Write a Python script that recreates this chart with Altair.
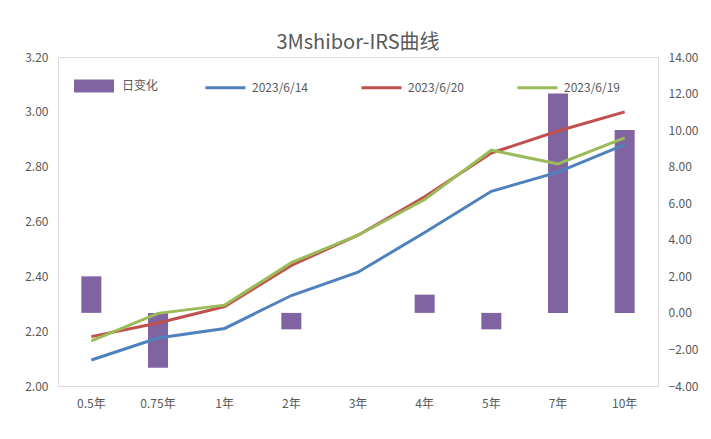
import altair as alt
import pandas as pd

categories = ["0.5年", "0.75年", "1年", "2年", "3年", "4年", "5年", "7年", "10年"]
daily_change = [2.0, -3.0, 0.0, -0.9, 0.0, 1.0, -0.9, 12.0, 10.0]
s_0614 = [2.095, 2.175, 2.21, 2.33, 2.415, 2.56, 2.71, 2.78, 2.88]
s_0620 = [2.18, 2.23, 2.29, 2.44, 2.55, 2.69, 2.85, 2.93, 3.00]
s_0619 = [2.165, 2.265, 2.295, 2.45, 2.55, 2.68, 2.86, 2.81, 2.905]
series_names = ["2023/6/14", "2023/6/20", "2023/6/19"]
series_colors = ["#4F81BD", "#C0504D", "#9BBB59"]
bar_name = "日变化"
bar_color = "#8064A2"

FONT = "Noto Sans CJK SC"
GRAY = "#595959"

bar_df = pd.DataFrame({"cat": categories, "chg": daily_change, "name": bar_name})
rows = []
for name, vals in zip(series_names, [s_0614, s_0620, s_0619]):
    for c, v in zip(categories, vals):
        rows.append({"cat": c, "rate": v, "series": name})
line_df = pd.DataFrame(rows)

xenc = alt.X("cat:N", sort=categories, title=None,
             scale=alt.Scale(paddingInner=0.7, paddingOuter=0.35),
             axis=alt.Axis(labelAngle=0, ticks=False, domainColor="#D9D9D9",
                           labelColor=GRAY, labelFont=FONT, labelFontSize=12,
                           labelPadding=12, grid=False))

bars = alt.Chart(bar_df).mark_bar(color=bar_color).encode(
    x=xenc,
    y=alt.Y("chg:Q", title=None,
            scale=alt.Scale(domain=[-4, 14], nice=False),
            axis=alt.Axis(orient="right", values=list(range(-4, 16, 2)), format=".2f",
                          grid=False, domain=False, ticks=False, labelColor=GRAY,
                          labelFont=FONT, labelFontSize=12, labelPadding=10)),
    color=alt.Color("name:N", scale=alt.Scale(domain=[bar_name], range=[bar_color]),
                    legend=alt.Legend(title=None, orient="none", legendX=16, legendY=9,
                                      symbolType="M-1,-0.33L1,-0.33L1,0.33L-1,0.33Z",
                                      symbolSize=1600, symbolOpacity=1,
                                      symbolStrokeWidth=0,
                                      labelFont=FONT, labelFontSize=12, labelColor=GRAY,
                                      labelOffset=8)),
)

lines = alt.Chart(line_df).mark_line(strokeWidth=3).encode(
    x=xenc,
    y=alt.Y("rate:Q", title=None,
            scale=alt.Scale(domain=[2.0, 3.2], nice=False, zero=False),
            axis=alt.Axis(orient="left", values=[2.0, 2.2, 2.4, 2.6, 2.8, 3.0, 3.2], format=".2f",
                          grid=False, domain=False, ticks=False, labelColor=GRAY,
                          labelFont=FONT, labelFontSize=12, labelPadding=10)),
    color=alt.Color("series:N", sort=series_names,
                    scale=alt.Scale(domain=series_names, range=series_colors),
                    legend=alt.Legend(title=None, orient="none", legendX=146, legendY=9,
                                      direction="horizontal", symbolType="stroke",
                                      symbolSize=1600, symbolStrokeWidth=3,
                                      columnPadding=46, labelOffset=5,
                                      labelFont=FONT, labelFontSize=12, labelColor=GRAY)),
    detail="series:N",
)

chart = alt.layer(bars, lines).resolve_scale(y="independent", color="independent").properties(
    width=600, height=329,
    autosize=alt.AutoSizeParams(type="none"),
    padding={"left": 50, "top": 49, "right": 45, "bottom": 45},
    title=alt.TitleParams("3Mshibor-IRS曲线", font=FONT, fontSize=20, fontWeight="normal",
                          color=GRAY, offset=-2),
).configure_view(stroke=None).configure(background="white")

chart.save("out.html", embed_options={"renderer": "svg", "actions": False})
